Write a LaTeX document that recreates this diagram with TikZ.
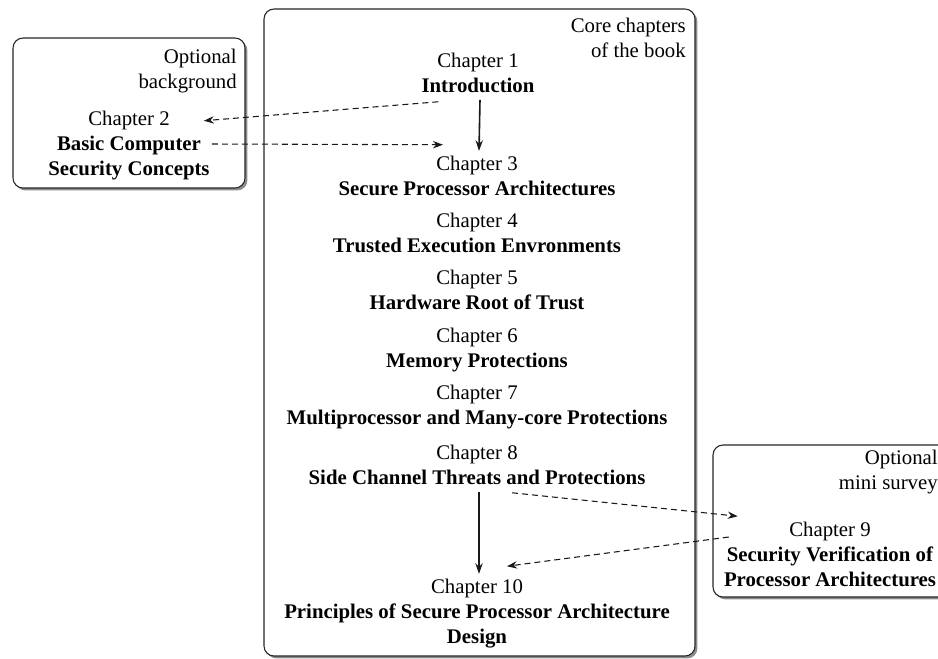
\documentclass[tikz,border=0pt]{standalone}
\usepackage{fontspec}
\setmainfont{Liberation Serif}
\usetikzlibrary{calc,arrows.meta,shadows}
\tikzset{
  panel/.style={draw=black!85, line width=0.8pt, rounded corners=7.5pt, fill=white,
    drop shadow={shadow xshift=1.8pt, shadow yshift=-1.8pt, fill=black!60, opacity=0.75}},
  chap/.style={align=center, inner sep=0pt, font=\fontsize{15.6}{18.75}\selectfont},
  tag/.style={align=right, inner sep=0pt, font=\fontsize{15.6}{18.75}\selectfont, anchor=north east},
  solidarrow/.style={line width=1.2pt, black!90, -{Stealth[length=8pt,width=5.5pt]}},
  dasharrow/.style={line width=0.8pt, black!90, dash pattern=on 4.5pt off 3pt, -{Stealth[length=7.5pt,width=5.5pt]}}
}
\begin{document}
\begin{tikzpicture}[x=0.75pt,y=-0.75pt]
\useasboundingbox (0,0) rectangle (938,658);
% panels
\path[panel] (264,9) rectangle (695,656);
\path[panel] (13,38) rectangle (245,188);
\path[panel] (713,445) rectangle (970,597);
% panel labels
\node[tag] (tagcore) at (686,15) {\strut Core chapters\\\strut of the book};
\node[tag] (tagbg) at (237,46) {\strut Optional\\\strut background};
\node[tag] (tagms) at (938,447) {\strut Optional\\\strut mini survey};
% chapters
\node[chap] (ch1) at (478,74.5) {\strut Chapter 1\\\strut\textbf{Introduction}};
\node[chap] (ch2) at (129,145) {\strut Chapter 2\\\strut\textbf{Basic Computer}\\\strut\textbf{Security Concepts}};
\node[chap] (ch3) at (477,177.5) {\strut Chapter 3\\\strut\textbf{Secure Processor Architectures}};
\node[chap] (ch4) at (477,234.5) {\strut Chapter 4\\\strut\textbf{Trusted Execution Envronments}};
\node[chap] (ch5) at (477,292) {\strut Chapter 5\\\strut\textbf{Hardware Root of Trust}};
\node[chap] (ch6) at (477,349.5) {\strut Chapter 6\\\strut\textbf{Memory Protections}};
\node[chap] (ch7) at (477,407) {\strut Chapter 7\\\strut\textbf{Multiprocessor and Many-core Protections}};
\node[chap] (ch8) at (477,466.5) {\strut Chapter 8\\\strut\textbf{Side Channel Threats and Protections}};
\node[chap] (ch9) at (830,556) {\strut Chapter 9\\\strut\textbf{Security Verification of}\\\strut\textbf{Processor Architectures}};
\node[chap] (ch10) at (477,613) {\strut Chapter 10\\\strut\textbf{Principles of Secure Processor Architecture}\\\strut\textbf{Design}};
% connectors
\draw[solidarrow] ([xshift=1.5pt]ch1.south) -- ([xshift=1.5pt,yshift=1pt]ch3.north);
\draw[solidarrow] ([xshift=1.5pt]ch8.south) -- ([xshift=1.5pt,yshift=1pt]ch10.north);
\draw[dasharrow] ($(ch1.south west)+(17,2)$) -- ($(ch2.north east)+(-6,13.5)$);
\draw[dasharrow] ($(ch2.east)+(2,-1)$) -- ($(ch3.north)+(-34,-7.5)$);
\draw[dasharrow] ($(ch8.south)+(35,1)$) -- ($(ch9.north west)+(14,-2)$);
\draw[dasharrow] ($(ch9.west)+(5,-19)$) -- ($(ch10.north)+(30,-9)$);
\end{tikzpicture}
\end{document}
